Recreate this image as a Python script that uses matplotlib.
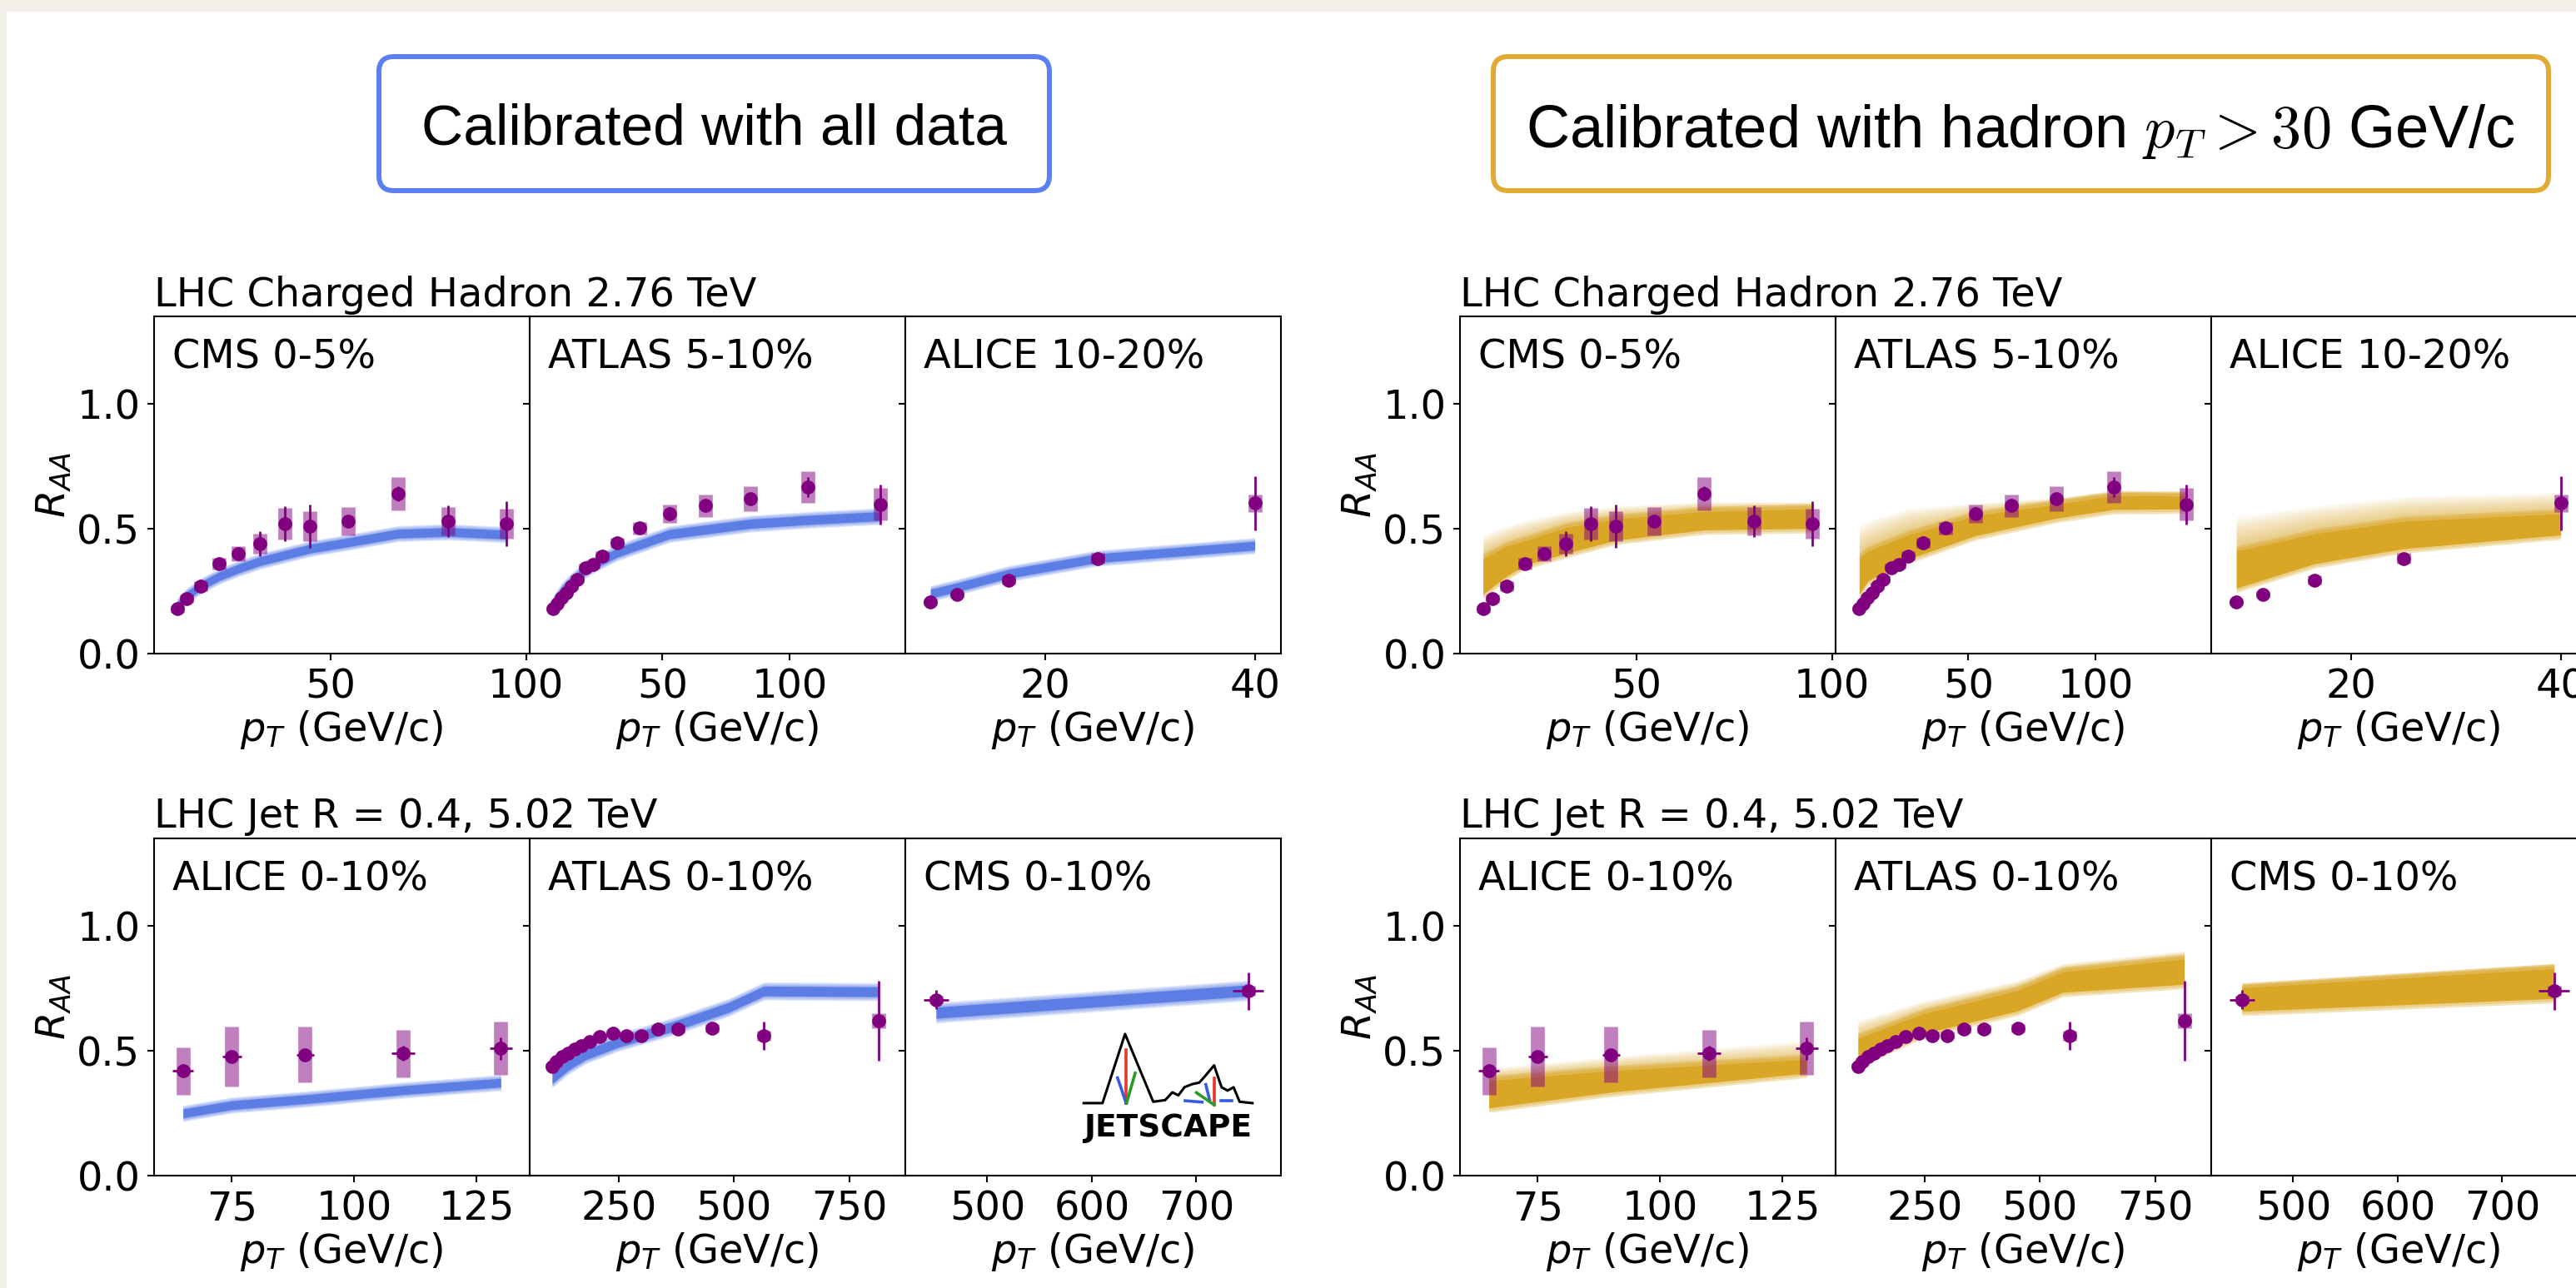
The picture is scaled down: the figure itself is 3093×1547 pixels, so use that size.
import numpy as np
import matplotlib
matplotlib.use("Agg")
import matplotlib.pyplot as plt
from matplotlib.patches import FancyBboxPatch, Rectangle
from matplotlib.lines import Line2D

plt.rcParams["font.family"] = ["DejaVu Sans"]
plt.rcParams["mathtext.fontset"] = "dejavusans"

# ---------------- experimental data (R_AA) ----------------
# Charged hadrons, 2.76 TeV
cms_h_pt = [10.8, 13.2, 16.8, 21.6, 26.4, 32.0, 38.4, 44.8, 54.4, 67.2, 80.0, 95.0]
cms_h_raa = [0.18, 0.22, 0.27, 0.36, 0.40, 0.44, 0.52, 0.51, 0.53, 0.64, 0.53, 0.52]
cms_h_stat = [0.005, 0.006, 0.008, 0.012, 0.02, 0.05, 0.07, 0.086, 0.02, 0.03, 0.062, 0.09]
cms_h_sys = [0.015, 0.018, 0.02, 0.022, 0.03, 0.04, 0.062, 0.06, 0.058, 0.068, 0.058, 0.06]

atlas_h_pt = [7.1, 8.6, 10.4, 12.3, 14.2, 16.6, 19.8, 22.6, 26.3, 32.3, 41.2, 52.8, 66.8, 84.8, 107.3, 135.9]
atlas_h_raa = [0.181, 0.199, 0.222, 0.245, 0.269, 0.298, 0.345, 0.356, 0.391, 0.445, 0.502,
               0.560, 0.593, 0.621, 0.667, 0.598]
atlas_h_stat = [0.003, 0.003, 0.003, 0.004, 0.004, 0.004, 0.005, 0.005, 0.006, 0.007, 0.008,
                0.01, 0.012, 0.015, 0.04, 0.08]
atlas_h_sys = [0.01, 0.01, 0.011, 0.012, 0.013, 0.014, 0.016, 0.017, 0.018, 0.02, 0.025,
               0.037, 0.045, 0.05, 0.062, 0.066]

alice_h_pt = [9.0, 11.5, 16.5, 25.0, 40.0]
alice_h_raa = [0.207, 0.236, 0.295, 0.381, 0.602]
alice_h_stat = [0.003, 0.004, 0.006, 0.01, 0.108]
alice_h_sys = [0.012, 0.014, 0.018, 0.022, 0.036]

# Inclusive jets R = 0.4, 5.02 TeV
alice_j_pt = [65, 75, 90, 110, 130]
alice_j_raa = [0.419, 0.478, 0.484, 0.489, 0.509]
alice_j_stat = [0.012, 0.012, 0.015, 0.03, 0.045]
alice_j_sys = [0.096, 0.12, 0.112, 0.094, 0.107]
alice_j_xerr = [2.1, 1.9, 1.8, 2.4, 2.3]

atlas_j_pt = [106, 115.6, 128.2, 140.8, 154.7, 169.2, 188.1, 209, 237.4, 266.9, 298.6,
              335.1, 378.7, 451.9, 565, 812.5]
atlas_j_raa = [0.438, 0.457, 0.476, 0.491, 0.508, 0.521, 0.537, 0.556, 0.571, 0.561, 0.561,
               0.587, 0.587, 0.59, 0.559, 0.62]
atlas_j_stat = [0.004, 0.004, 0.004, 0.004, 0.005, 0.005, 0.005, 0.006, 0.006, 0.007, 0.008,
                0.01, 0.012, 0.015, 0.057, 0.159]
atlas_j_sys = [0.012, 0.012, 0.012, 0.012, 0.013, 0.013, 0.013, 0.014, 0.014, 0.015, 0.015,
               0.016, 0.017, 0.018, 0.02, 0.03]

cms_j_pt = [451, 749.6]
cms_j_raa = [0.705, 0.739]
cms_j_stat = [0.038, 0.076]
cms_j_sys = [0.015, 0.02]
cms_j_xerr = [11.7, 14.7]

# ---------------- model posterior bands ----------------
# calibration with all data: centre and half width
cms_h_band_pt = [10.8, 13.2, 16.8, 21.6, 26.4, 32.0, 38.4, 44.8, 54.4, 67.2, 80.0, 95.0]
cms_h_band_all = [0.19, 0.23, 0.27, 0.31, 0.34, 0.37, 0.395, 0.42, 0.445, 0.48, 0.487, 0.476]
atlas_h_band_pt = [7.1, 10.4, 14.2, 19.8, 23.7, 32.4, 52.8, 84.8, 107.3, 135.9]
atlas_h_band_all = [0.2, 0.25, 0.29, 0.335, 0.36, 0.405, 0.478, 0.52, 0.535, 0.55]
alice_h_band_pt = [9.0, 11.5, 16.5, 25.0, 40.0]
alice_h_band_all = [0.24, 0.265, 0.32, 0.382, 0.432]
alice_j_band_pt = [65, 75, 90, 110, 130]
alice_j_band_all = [0.249, 0.282, 0.306, 0.342, 0.372]
atlas_j_band_pt = [106, 140, 178, 250, 368, 488, 565, 812.5]
atlas_j_band_all = [0.388, 0.44, 0.483, 0.534, 0.597, 0.673, 0.739, 0.736]
cms_j_band_pt = [451, 749.6]
cms_j_band_all = [0.652, 0.741]
band_all_half = [0.025, 0.026, 0.025, 0.025, 0.028, 0.032]

# calibration with hadron pT > 30 GeV/c: lower edge, dense top, faint top
cms_h_gpt = [10.8, 16.8, 21.6, 32.0, 44.8, 67.2, 95.0]
cms_h_glo = [0.228, 0.30, 0.345, 0.391, 0.444, 0.485, 0.491]
cms_h_gmid = [0.39, 0.44, 0.462, 0.515, 0.549, 0.579, 0.59]
cms_h_ghi = [0.473, 0.51, 0.532, 0.567, 0.59, 0.608, 0.608]
atlas_h_gpt = [7.1, 10.4, 26.3, 52.8, 84.8, 107.3, 135.9]
atlas_h_glo = [0.228, 0.28, 0.368, 0.462, 0.532, 0.567, 0.569]
atlas_h_gmid = [0.391, 0.42, 0.485, 0.562, 0.608, 0.643, 0.64]
atlas_h_ghi = [0.508, 0.53, 0.58, 0.602, 0.625, 0.65, 0.65]
alice_h_gpt = [9.0, 16.5, 25.0, 40.0]
alice_h_glo = [0.252, 0.35, 0.41, 0.465]
alice_h_gmid = [0.42, 0.49, 0.54, 0.57]
alice_h_ghi = [0.546, 0.59, 0.627, 0.645]
alice_j_gpt = [65, 90, 130]
alice_j_glo = [0.261, 0.324, 0.40]
alice_j_gmid = [0.39, 0.43, 0.476]
alice_j_ghi = [0.43, 0.476, 0.54]
atlas_j_gpt = [106, 250, 450, 550, 812.5]
atlas_j_glo = [0.44, 0.56, 0.648, 0.724, 0.756]
atlas_j_gmid = [0.56, 0.66, 0.75, 0.826, 0.877]
atlas_j_ghi = [0.62, 0.70, 0.78, 0.85, 0.9]
cms_j_gpt = [451, 749.6]
cms_j_glo = [0.648, 0.699]
cms_j_gmid = [0.762, 0.839]
cms_j_ghi = [0.77, 0.85]

panel_labels = ["CMS 0-5%", "ATLAS 5-10%", "ALICE 10-20%",
                "ALICE 0-10%", "ATLAS 0-10%", "CMS 0-10%"]
row_titles = ["LHC Charged Hadron 2.76 TeV", "LHC Jet R = 0.4, 5.02 TeV"]
x_limits = [(4.9, 100.9), (-2.2, 145.6), (6.6, 42.5),
            (59.1, 135.9), (57.4, 871.0), (421.6, 781.0)]
x_ticks = [[50, 100], [50, 100], [20, 40], [75, 100, 125], [250, 500, 750], [500, 600, 700]]

# ---------------- style ----------------
W, H, DPI = 3093, 1547, 100
BLUE = "#4169E1"
GOLD = "#DAA520"
PURPLE = "#800080"
FS = 34.5

fig = plt.figure(figsize=(W / DPI, H / DPI), dpi=DPI)
fig.patch.set_facecolor("#f2efe8")
fig.patches.append(Rectangle((8 / W, 0), 1, 1 - 14 / H, transform=fig.transFigure,
                             facecolor="white", edgecolor="none", zorder=-10))

data_sets = [
    (cms_h_pt, cms_h_raa, cms_h_stat, cms_h_sys, None),
    (atlas_h_pt, atlas_h_raa, atlas_h_stat, atlas_h_sys, None),
    (alice_h_pt, alice_h_raa, alice_h_stat, alice_h_sys, None),
    (alice_j_pt, alice_j_raa, alice_j_stat, alice_j_sys, alice_j_xerr),
    (atlas_j_pt, atlas_j_raa, atlas_j_stat, atlas_j_sys, None),
    (cms_j_pt, cms_j_raa, cms_j_stat, cms_j_sys, cms_j_xerr),
]
bands_all = [
    (cms_h_band_pt, cms_h_band_all), (atlas_h_band_pt, atlas_h_band_all),
    (alice_h_band_pt, alice_h_band_all), (alice_j_band_pt, alice_j_band_all),
    (atlas_j_band_pt, atlas_j_band_all), (cms_j_band_pt, cms_j_band_all),
]
bands_hadron = [
    (cms_h_gpt, cms_h_glo, cms_h_gmid, cms_h_ghi),
    (atlas_h_gpt, atlas_h_glo, atlas_h_gmid, atlas_h_ghi),
    (alice_h_gpt, alice_h_glo, alice_h_gmid, alice_h_ghi),
    (alice_j_gpt, alice_j_glo, alice_j_gmid, alice_j_ghi),
    (atlas_j_gpt, atlas_j_glo, atlas_j_gmid, atlas_j_ghi),
    (cms_j_gpt, cms_j_glo, cms_j_gmid, cms_j_ghi),
]


def draw_blue_band(ax, x, mid, half):
    x = np.asarray(x, float)
    mid = np.asarray(mid, float)
    ax.fill_between(x, mid - 0.7 * half, mid + 0.7 * half, color=BLUE, alpha=0.7, lw=0, zorder=1)
    for f in (0.85, 1.0, 1.15, 1.3):
        ax.fill_between(x, mid - f * half, mid + f * half, color=BLUE, alpha=0.16, lw=0, zorder=1)


def draw_gold_band(ax, x, lo, mid, hi):
    x = np.asarray(x, float)
    lo, mid, hi = (np.asarray(v, float) for v in (lo, mid, hi))
    # dense part of the posterior, softened at its lower edge
    ax.fill_between(x, lo + 0.01, mid - 0.01, color=GOLD, alpha=0.95, lw=0, zorder=1)
    for d in (0.0, -0.008):
        ax.fill_between(x, lo + d, mid + 0.01 + d, color=GOLD, alpha=0.3, lw=0, zorder=1)
    # sparse upper tail of the posterior
    n = 10
    for k in range(1, n + 1):
        ax.fill_between(x, mid - 0.01, mid + (hi - mid) * k / n, color=GOLD,
                        alpha=0.07, lw=0, zorder=1)


def draw_data(ax, x, y, stat, sys, xerr):
    ax.errorbar(x, y, yerr=sys, fmt="none", ecolor=PURPLE, elinewidth=12, alpha=0.5,
                capsize=0, zorder=3)
    ax.errorbar(x, y, yerr=stat, xerr=xerr, fmt="o", color=PURPLE, ms=11, elinewidth=2,
                capsize=0, zorder=4)


def draw_logo(ax):
    tr = ax.transAxes
    ridge_x = [0.475, 0.525, 0.585, 0.660, 0.692, 0.711, 0.727, 0.743, 0.763, 0.783,
               0.798, 0.822, 0.842, 0.858, 0.874, 0.890, 0.924]
    ridge_y = [0.215, 0.215, 0.42, 0.219, 0.224, 0.247, 0.238, 0.262, 0.271, 0.276,
               0.295, 0.327, 0.262, 0.252, 0.262, 0.219, 0.215]
    ax.add_line(Line2D(ridge_x, ridge_y, transform=tr, color="black", lw=2.2, zorder=5))
    strokes = [
        ([0.588, 0.588], [0.374, 0.215], "#e8362b"),
        ([0.565, 0.588], [0.29, 0.215], "#3a5be0"),
        ([0.612, 0.589], [0.304, 0.215], "#2a9a2a"),
        ([0.822, 0.822], [0.29, 0.21], "#e8362b"),
        ([0.745, 0.79], [0.222, 0.218], "#3a5be0"),
        ([0.80, 0.81], [0.27, 0.225], "#3a5be0"),
        ([0.84, 0.87], [0.222, 0.222], "#3a5be0"),
        ([0.775, 0.822], [0.246, 0.21], "#2a9a2a"),
    ]
    for sx, sy, c in strokes:
        ax.add_line(Line2D(sx, sy, transform=tr, color=c, lw=2.6, zorder=5))
    ax.text(0.699, 0.115, "JETSCAPE", transform=tr, ha="center", va="baseline",
            fontsize=27, fontweight="heavy", family="DejaVu Sans", zorder=5)


col_left = {0: [185, 636, 1087], 1: [1753, 2204, 2655]}
row_top = [380, 1007]
AX_W, AX_H = 451, 405

for s in (0, 1):
    for r in (0, 1):
        for c in range(3):
            i = 3 * r + c
            x0 = col_left[s][c]
            ax = fig.add_axes([x0 / W, 1 - (row_top[r] + AX_H) / H, AX_W / W, AX_H / H])
            ax.set_xlim(*x_limits[i])
            ax.set_ylim(0, 1.35)
            ax.set_xticks(x_ticks[i])
            ax.set_yticks([0.0, 0.5, 1.0])
            ax.tick_params(direction="out", length=6, width=1.5, labelsize=FS, pad=6)
            for sp in ax.spines.values():
                sp.set_linewidth(1.5)
            if c == 0:
                ax.set_yticklabels(["0.0", "0.5", "1.0"])
                ax.text(-0.267, 0.5, "$R_{AA}$", transform=ax.transAxes, rotation=90,
                        ha="center", va="center", fontsize=FS)
                ax.set_title(row_titles[r], loc="left", fontsize=FS, pad=9)
            else:
                ax.set_yticklabels([])
            ax.set_xlabel("$p_T$ (GeV/c)", fontsize=FS, labelpad=2)
            ax.text(0.048, 0.937, panel_labels[i], transform=ax.transAxes, ha="left",
                    va="top", fontsize=FS)

            if s == 0:
                bx, bm = bands_all[i]
                draw_blue_band(ax, bx, bm, band_all_half[i])
            else:
                draw_gold_band(ax, *bands_hadron[i])
            draw_data(ax, *data_sets[i])
            if s == 0 and i == 5:
                draw_logo(ax)

# calibration headers
inch = fig.dpi_scale_trans
headers = [
    (455, 1260, "#5a7ff0", "Calibrated with all data", 174, 50),
    (1793, 3060, "#e1aa32", r"Calibrated with hadron $p_T > 30$ GeV/c", 177, 52),
]
for xl, xr, ec, label, base, size in headers:
    box = FancyBboxPatch((xl / DPI, (H - 229) / DPI), (xr - xl) / DPI, 161 / DPI,
                         boxstyle="round,pad=0,rounding_size=0.18", transform=inch,
                         facecolor="white", edgecolor=ec, linewidth=4.3)
    fig.patches.append(box)
    fig.text((xl + xr) / 2 / W, 1 - base / H, label, ha="center", va="baseline",
             fontsize=size, family="Liberation Sans", math_fontfamily="cm")

fig.savefig("out.png", dpi=DPI, facecolor=fig.get_facecolor())
